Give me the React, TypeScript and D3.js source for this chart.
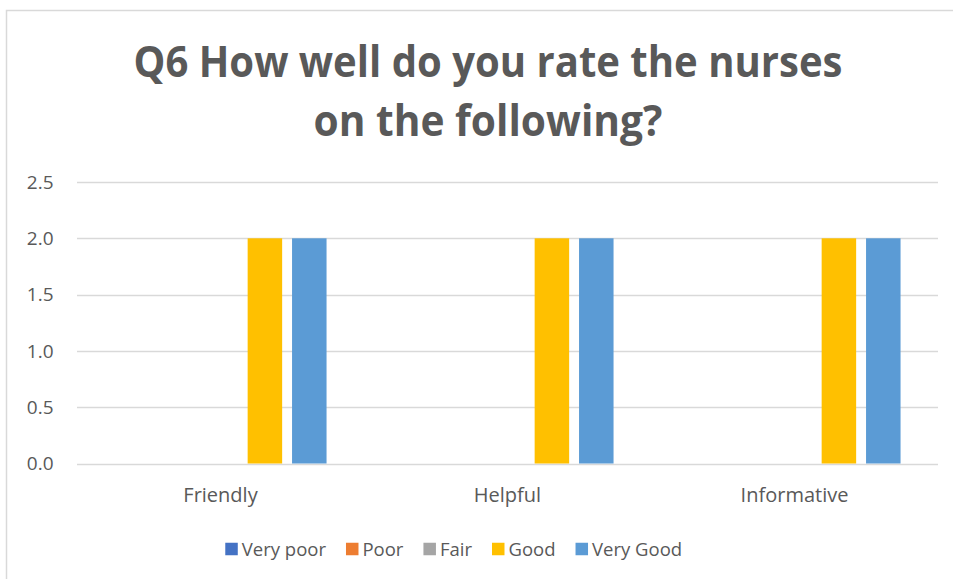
import React, { useEffect, useRef } from "react";
import * as d3 from "d3";

const categories = ["Friendly", "Helpful", "Informative"];
const seriesNames = ["Very poor", "Poor", "Fair", "Good", "Very Good"];
const veryPoor = [0, 0, 0];
const poor = [0, 0, 0];
const fair = [0, 0, 0];
const good = [2, 2, 2];
const veryGood = [2, 2, 2];
const seriesValues = [veryPoor, poor, fair, good, veryGood];
const seriesColors = ["#4472C4", "#ED7D31", "#A5A5A5", "#FFC000", "#5B9BD5"];
const yTicks = [0, 0.5, 1.0, 1.5, 2.0, 2.5];
const titleLines = ["Q6 How well do you rate the nurses", "on the following?"];

const W = 953;
const H = 579;
const FONT = "'Open Sans', 'Noto Sans', sans-serif";
const TEXT = "#595959";

export default function App() {
  const ref = useRef<SVGSVGElement>(null);

  useEffect(() => {
    const svg = d3.select(ref.current);
    svg.selectAll("*").remove();

    // chart frame (cropped: top & left edges visible)
    svg.append("rect").attr("x", 6.5).attr("y", 10.5).attr("width", W + 10).attr("height", H + 10)
      .attr("fill", "#fff").attr("stroke", "#D9D9D9").attr("stroke-width", 1.5);

    const left = 77, right = 938, top = 182, bottom = 463.5;
    const y = d3.scaleLinear().domain([0, 2.5]).range([bottom, top]);
    const x0 = d3.scaleBand<string>().domain(categories).range([left, right]).paddingInner(0.261).paddingOuter(0.1305);
    const x1 = d3.scaleBand<string>().domain(seriesNames).range([0, x0.bandwidth()]).paddingInner(0.223).paddingOuter(0);

    // title
    const titleTargets = [709, 349];
    const tg = svg.append("g");
    titleLines.forEach((line, i) => {
      tg.append("text")
        .attr("x", 488).attr("y", i === 0 ? 77 : 136)
        .attr("text-anchor", "middle")
        .attr("font-family", FONT).attr("font-weight", 700)
        .attr("font-size", 43).attr("fill", TEXT).text(line)
        .attr("textLength", titleTargets[i]).attr("lengthAdjust", "spacingAndGlyphs");
    });

    // gridlines
    svg.append("g").selectAll("line").data(yTicks).join("line")
      .attr("x1", left).attr("x2", right)
      .attr("y1", (d) => Math.round(y(d)) + 0.5).attr("y2", (d) => Math.round(y(d)) + 0.5)
      .attr("stroke", "#D9D9D9").attr("stroke-width", 1.3);

    // y tick labels
    svg.append("g").selectAll("text").data(yTicks).join("text")
      .attr("x", 53.5).attr("y", (d) => y(d)).attr("dy", "0.36em")
      .attr("text-anchor", "end").attr("font-family", FONT).attr("font-size", 19)
      .attr("fill", TEXT).text((d) => d3.format(".1f")(d));

    // bars
    const bars = svg.append("g");
    seriesValues.forEach((vals, si) => {
      bars.append("g").selectAll("rect").data(vals.map((v, ci) => ({ v, c: categories[ci] }))).join("rect")
        .attr("x", (d) => (x0(d.c) as number) + (x1(seriesNames[si]) as number))
        .attr("width", x1.bandwidth())
        .attr("y", (d) => y(d.v))
        .attr("height", (d) => bottom - y(d.v))
        .attr("fill", seriesColors[si]);
    });

    // x labels
    svg.append("g").selectAll("text").data(categories).join("text")
      .attr("x", (d) => (x0(d) as number) + x0.bandwidth() / 2).attr("y", 501.5)
      .attr("text-anchor", "middle").attr("font-family", FONT).attr("font-size", 20)
      .attr("fill", TEXT).text((d) => d);

    // legend
    const lg = svg.append("g");
    const sq = 12.5, gapAfterSq = 4, itemGap = 20;
    let cx = 0;
    const items = seriesNames.map((name, i) => {
      const g = lg.append("g");
      g.append("rect").attr("x", 0).attr("y", -sq / 2).attr("width", sq).attr("height", sq).attr("fill", seriesColors[i]);
      const t = g.append("text").attr("x", sq + gapAfterSq).attr("y", 0).attr("dy", "0.36em")
        .attr("font-family", FONT).attr("font-size", 18.5).attr("fill", TEXT).text(name);
      const tw = (t.node() as SVGTextElement).getComputedTextLength();
      const w = sq + gapAfterSq + tw;
      const item = { g, x: cx };
      cx += w + itemGap;
      return item;
    });
    const total = cx - itemGap;
    const startX = (226.7 + 680.7) / 2 - total / 2;
    items.forEach((it) => it.g.attr("transform", `translate(${startX + it.x},549)`));
  }, []);

  return (
    <div style={{ position: "absolute", left: 0, top: 0, width: W, height: H, background: "#fff" }}>
      <svg ref={ref} width={W} height={H} style={{ display: "block" }} />
    </div>
  );
}
